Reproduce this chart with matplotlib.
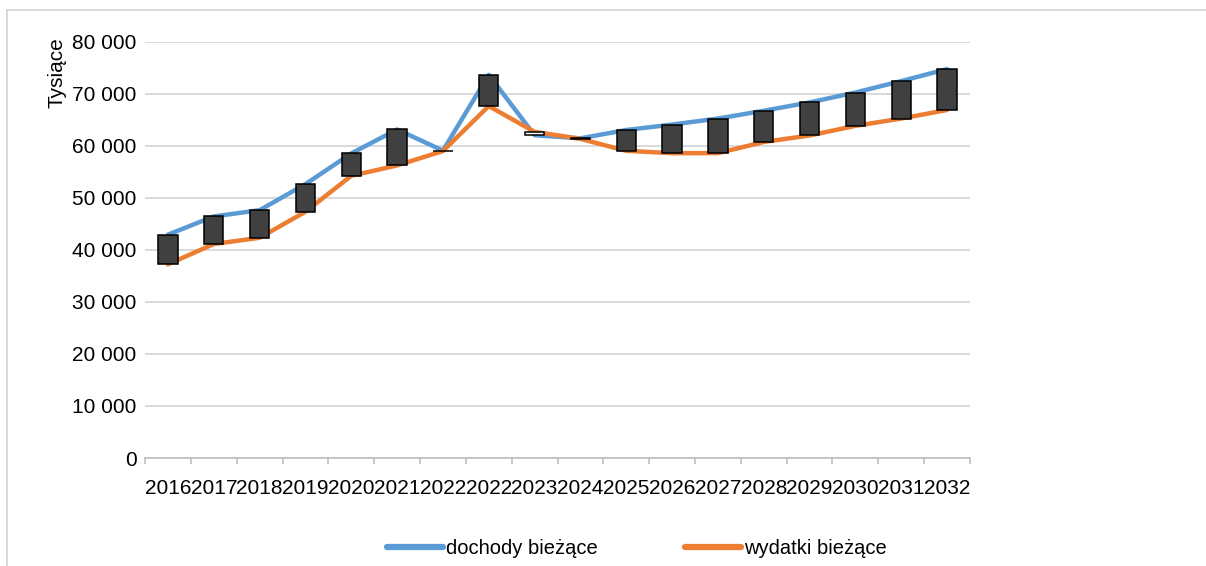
import matplotlib
matplotlib.use("Agg")
import matplotlib.pyplot as plt
from matplotlib.lines import Line2D
from matplotlib.ticker import FuncFormatter, FixedLocator
import numpy as np

plt.rcParams['font.family'] = ['Liberation Sans', 'DejaVu Sans']

years = ["2016", "2017", "2018", "2019", "2020", "2021", "2022", "2022", "2023",
         "2024", "2025", "2026", "2027", "2028", "2029", "2030", "2031", "2032"]
dochody = [42900, 46400, 47600, 52600, 58500, 63100, 59050, 73600, 62000,
           61400, 63000, 64050, 65200, 66700, 68300, 70200, 72400, 74700]
wydatki = [37200, 41100, 42300, 47300, 54200, 56200, 58950, 67600, 62650,
           61300, 59000, 58550, 58550, 60700, 61950, 63800, 65200, 66850]

blue = "#5B9BD5"
orange = "#ED7D31"
grid_c = "#D9D9D9"

W, H = 1206, 566
fig = plt.figure(figsize=(W / 100, H / 100), dpi=100)
ax = fig.add_axes([145 / W, 1 - 458 / H, (970 - 145) / W, (458 - 41.5) / H])

x = np.arange(len(years))
ax.plot(x, dochody, color=blue, lw=3.2, solid_capstyle='round', zorder=3)
ax.plot(x, wydatki, color=orange, lw=3.2, solid_capstyle='round', zorder=3)

d = np.array(dochody)
w = np.array(wydatki)
lo = np.minimum(d, w)
hi = np.maximum(d, w)
cols = ["#404040" if dd >= ww else "white" for dd, ww in zip(d, w)]
ax.bar(x, hi - lo, bottom=lo, width=0.42, color=cols, edgecolor="black",
       linewidth=1.1, zorder=4)

ax.set_xlim(-0.5, len(years) - 0.5)
ax.set_ylim(0, 80000)
ax.set_yticks(np.arange(0, 80001, 10000))
ax.yaxis.set_major_formatter(FuncFormatter(lambda v, p: f"{int(v):,}".replace(",", " ")))
ax.grid(axis='y', color=grid_c, lw=1.4, zorder=0)
ax.set_axisbelow(True)

ax.xaxis.set_major_locator(FixedLocator(np.arange(-0.5, len(years), 1.0)))
ax.set_xticklabels([], minor=False)
ax.set_xticks(x, minor=True)
ax.set_xticklabels(years, minor=True)
ax.tick_params(axis='x', which='major', length=4.5, color="#BFBFBF", width=1.2)
ax.tick_params(axis='x', which='minor', length=0, pad=15, labelsize=15)
ax.tick_params(axis='y', length=0, pad=6, labelsize=15)

for s in ['top', 'right', 'left']:
    ax.spines[s].set_visible(False)
ax.spines['bottom'].set_color("#BFBFBF")
ax.spines['bottom'].set_linewidth(1.2)

fig.text(57 / W, 1 - 72.5 / H, "Tysiące", rotation=90, ha='center', va='center', fontsize=15)

handles = [Line2D([0], [0], color=blue, lw=4.5, solid_capstyle='round'),
           Line2D([0], [0], color=orange, lw=4.5, solid_capstyle='round')]
fig.legend(handles, ["dochody bieżące", "wydatki bieżące"], loc='center',
           bbox_to_anchor=(637 / W, 1 - 549 / H), ncol=2, frameon=False,
           fontsize=14.5, handlelength=2.8, handletextpad=0.15, columnspacing=4.3)

# outer chart frame
fig.add_artist(Line2D([7 / W, 1.0], [1 - 9.5 / H, 1 - 9.5 / H], color=grid_c, lw=1.4,
                      transform=fig.transFigure))
fig.add_artist(Line2D([7 / W, 7 / W], [0, 1 - 9.5 / H], color=grid_c, lw=1.4,
                      transform=fig.transFigure))

fig.savefig("out.png", dpi=100)
